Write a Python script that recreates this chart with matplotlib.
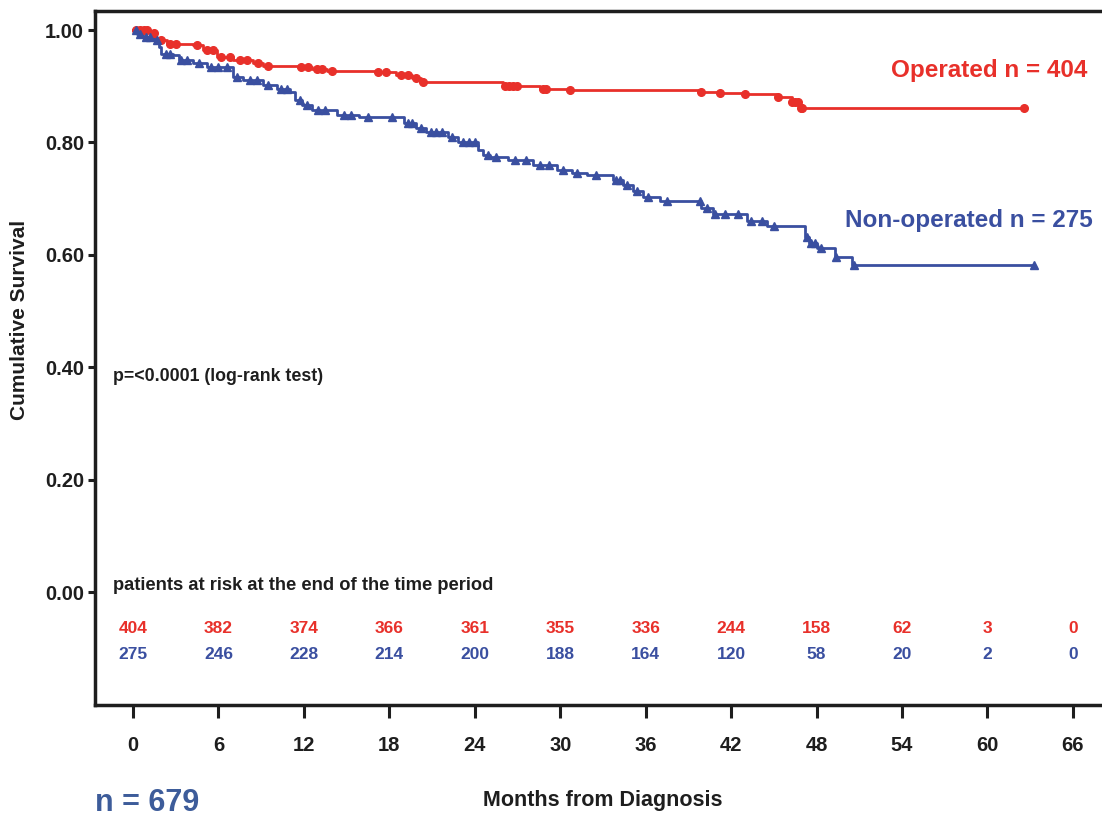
"""Kaplan-Meier survival: operated vs non-operated patients."""
import numpy as np
import matplotlib
matplotlib.use('Agg')
import matplotlib.pyplot as plt

plt.rcParams['font.family'] = ['Liberation Sans', 'DejaVu Sans']
plt.rcParams['font.weight'] = 'bold'

C_RED  = '#E8302A'
C_BLUE = '#3A4FA0'
C_DARK = '#1E1E1E'

# ---- survival steps (months, cumulative survival after the drop) ----
op_t = [0, 1.2, 1.6, 2.4, 4.2, 4.9, 5.9, 7.0, 8.4, 9.1, 11.6, 12.6, 13.6, 17.0,
        18.5, 19.6, 20.2, 26.0, 28.6, 30.5, 39.8, 41.1, 42.8, 45.2, 46.3, 46.8]
op_s = [1.000, 0.995, 0.982, 0.976, 0.973, 0.964, 0.953, 0.947, 0.941, 0.936,
        0.934, 0.931, 0.928, 0.925, 0.920, 0.915, 0.908, 0.900, 0.896, 0.894,
        0.890, 0.888, 0.886, 0.881, 0.872, 0.861]
op_end = 62.6
op_cens = [0.2, 0.5, 0.8, 1.0, 1.5, 2.0, 2.6, 3.0, 4.5, 5.2, 5.6, 6.2, 6.8, 7.5,
           8.0, 8.8, 9.5, 11.8, 12.3, 12.9, 13.3, 14.0, 17.2, 17.8, 18.8, 19.3,
           19.9, 20.4, 26.1, 26.4, 26.7, 27.0, 28.8, 29.0, 30.7, 39.9, 41.2, 43.0,
           45.3, 46.3, 46.5, 46.7, 46.9, 47.0, 62.6]

non_t = [0, 0.3, 0.7, 1.5, 1.8, 2.0, 2.8, 3.2, 4.2, 5.2, 7.0, 7.7, 9.1, 10.1,
         11.0, 11.4, 11.9, 12.6, 14.3, 15.9, 19.0, 19.9, 20.6, 22.1, 22.8, 24.2,
         24.6, 25.1, 26.3, 28.1, 29.8, 30.8, 31.9, 33.7, 34.4, 35.1, 35.8, 37.0,
         39.9, 40.7, 43.1, 44.5, 47.2, 47.5, 48.0, 49.3, 50.5]
non_s = [1.000, 0.993, 0.988, 0.982, 0.970, 0.958, 0.956, 0.947, 0.941, 0.934,
         0.916, 0.911, 0.902, 0.896, 0.890, 0.875, 0.867, 0.858, 0.849, 0.845,
         0.834, 0.826, 0.819, 0.810, 0.800, 0.786, 0.778, 0.774, 0.769, 0.760,
         0.751, 0.746, 0.742, 0.733, 0.724, 0.714, 0.703, 0.696, 0.684, 0.673,
         0.660, 0.651, 0.632, 0.621, 0.612, 0.596, 0.582]
non_end = 63.3
non_cens = [0.2, 0.5, 0.9, 1.2, 1.7, 2.3, 2.6, 3.4, 3.8, 4.6, 5.5, 6.0, 6.6, 7.3,
            8.2, 8.7, 9.5, 10.4, 10.8, 11.7, 12.2, 13.0, 13.5, 14.8, 15.3, 16.5,
            18.2, 19.3, 19.6, 20.2, 20.9, 21.3, 21.7, 22.4, 23.2, 23.6, 24.0,
            24.9, 25.5, 26.8, 27.6, 28.6, 29.2, 30.2, 31.2, 32.5, 33.9, 34.2,
            34.7, 35.4, 36.2, 37.5, 39.8, 40.3, 40.9, 41.6, 42.5, 43.4, 44.2,
            45.0, 47.3, 47.6, 47.9, 48.3, 49.4, 50.6, 63.3]

# ---- patients at risk ----
risk_months = [0, 6, 12, 18, 24, 30, 36, 42, 48, 54, 60, 66]
risk_op  = [404, 382, 374, 366, 361, 355, 336, 244, 158, 62, 3, 0]
risk_non = [275, 246, 228, 214, 200, 188, 164, 120, 58, 20, 2, 0]


def surv_at(t_steps, s_steps, t):
    idx = np.searchsorted(t_steps, t, side='right') - 1
    return np.asarray(s_steps)[idx]


fig = plt.figure(figsize=(11.02, 8.21), dpi=100)
fig.patch.set_facecolor('white')
ax = fig.add_axes([95 / 1102, 1 - 705 / 821, 1 - 95 / 1102, (705 - 11) / 821])

for t, s, end, cens, col, mk, ms in [
        (op_t, op_s, op_end, op_cens, C_RED, 'o', 5.5),
        (non_t, non_s, non_end, non_cens, C_BLUE, '^', 5.5)]:
    ax.step(t + [end], s + [s[-1]], where='post', color=col, lw=2.0, zorder=3)
    ax.plot(cens, surv_at(t, s, cens), ls='none', marker=mk, ms=ms,
            color=col, mec=col, mew=1.0, zorder=4)

ax.text(53.2, 0.929, 'Operated n = 404', color=C_RED, fontsize=17.5,
        fontweight='bold', ha='left', va='center')
ax.text(50.0, 0.662, 'Non-operated n = 275', color=C_BLUE, fontsize=17.5,
        fontweight='bold', ha='left', va='center')
ax.text(-1.4, 0.383, 'p=<0.0001 (log-rank test)', color=C_DARK, fontsize=12.8,
        fontweight='bold', ha='left', va='center')
ax.text(-1.4, 0.0125, 'patients at risk at the end of the time period',
        color=C_DARK, fontsize=13.2, fontweight='bold', ha='left', va='center')

for m, a, b in zip(risk_months, risk_op, risk_non):
    ax.text(m, -0.064, str(a), color=C_RED, fontsize=12.5, fontweight='bold',
            ha='center', va='center')
    ax.text(m, -0.112, str(b), color=C_BLUE, fontsize=12.5, fontweight='bold',
            ha='center', va='center')

ax.set_xlim(-2.67, 68.05)
ax.set_ylim(-0.201, 1.034)
ax.set_xticks(risk_months)
ax.set_yticks([0, 0.2, 0.4, 0.6, 0.8, 1.0])
ax.set_yticklabels(['0.00', '0.20', '0.40', '0.60', '0.80', '1.00'])
ax.tick_params(axis='both', direction='out', colors=C_DARK, width=2.2,
               labelsize=14.5)
ax.tick_params(axis='x', length=9, pad=13)
ax.tick_params(axis='y', length=5, pad=3)
for lab in ax.get_xticklabels() + ax.get_yticklabels():
    lab.set_fontweight('bold')

ax.spines['right'].set_visible(False)
for sp in ['left', 'top', 'bottom']:
    ax.spines[sp].set_linewidth(2.5)
    ax.spines[sp].set_color(C_DARK)

ax.set_ylabel('Cumulative Survival', fontsize=15, fontweight='bold',
              color=C_DARK)
ax.yaxis.set_label_coords(-0.066, 0.555)

fig.text(95 / 1102, 1 - 803 / 821, 'n = 679', color='#3D5C9A', fontsize=22,
         ha='left', va='center')
fig.text(603 / 1102, 1 - 800 / 821, 'Months from Diagnosis', color=C_DARK,
         fontsize=15.5, fontweight='bold', ha='center', va='center')

fig.savefig('out.png', dpi=100, facecolor='white')
